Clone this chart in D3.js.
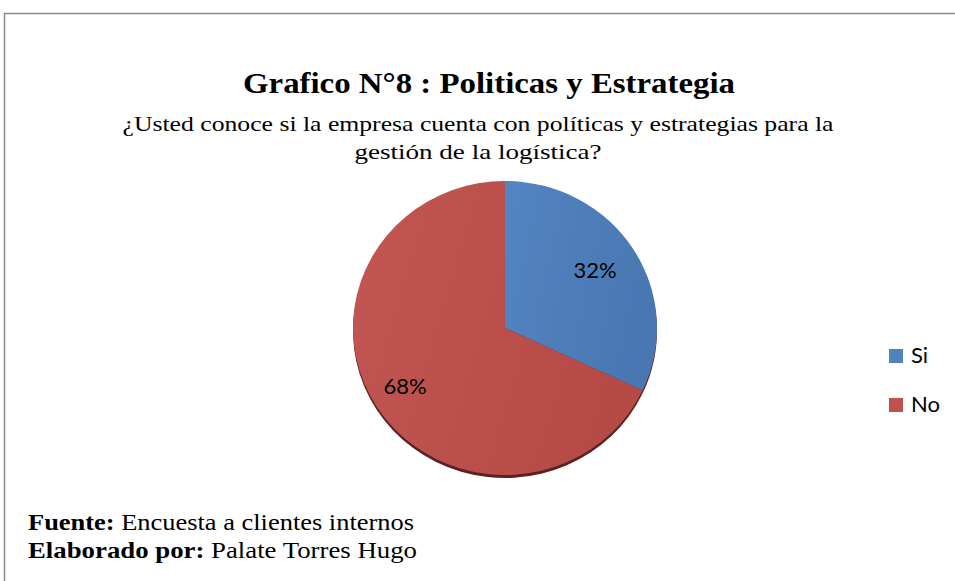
<!DOCTYPE html>
<html><head><meta charset="utf-8">
<script src="https://cdn.jsdelivr.net/npm/d3@7/dist/d3.min.js"></script>
<style>body{margin:0;background:#fff}svg{display:block}</style>
</head><body><svg id="c" width="955" height="581"></svg>
<script>
const categories = ["Si", "No"];
const values = [32, 68];
const labels = ["32%", "68%"];
const colors = ["#4F81BD", "#C0504D"];
const titleText = "Grafico  N°8 :  Politicas y Estrategia";
const subtitleLines = ["¿Usted conoce si la empresa cuenta con políticas y estrategias para la", "gestión de la logística?"];

const svg = d3.select("#c");
const W = 955, H = 581;
const serif = "'Liberation Serif', 'Times New Roman', serif";
const sans = "Lato, 'Open Sans', sans-serif";
svg.append("rect").attr("width", W).attr("height", H).attr("fill", "#fff");
// border
svg.append("path").attr("d", `M4.5,${H} L4.5,13.5 L${W},13.5`).attr("fill", "none").attr("stroke", "#8c8c8c").attr("stroke-width", 1.5);

const defs = svg.append("defs");
const g1 = defs.append("linearGradient").attr("id", "gb").attr("x1", "0").attr("x2", "1").attr("y1", "0").attr("y2", "0.3");
g1.append("stop").attr("offset", "0").attr("stop-color", "#5385c2");
g1.append("stop").attr("offset", "1").attr("stop-color", "#4977b2");
const g2 = defs.append("linearGradient").attr("id", "gr").attr("x1", "0").attr("x2", "1").attr("y1", "0").attr("y2", "0.3");
g2.append("stop").attr("offset", "0").attr("stop-color", "#c25652");
g2.append("stop").attr("offset", "1").attr("stop-color", "#b54a47");
const fills = ["url(#gb)", "url(#gr)"];
const blur = defs.append("filter").attr("id", "bl").attr("x", "-10%").attr("y", "-10%").attr("width", "120%").attr("height", "120%");
blur.append("feGaussianBlur").attr("stdDeviation", 0.7);

// title
svg.append("text").attr("x", 489).attr("y", 93).attr("text-anchor", "middle")
  .attr("font-family", serif).attr("font-weight", "bold").attr("font-size", 30)
  .attr("textLength", 492).attr("lengthAdjust", "spacingAndGlyphs").attr("fill", "#000").text(titleText);
const subW = [711, 247];
subtitleLines.forEach((t, i) => {
  svg.append("text").attr("x", 478).attr("y", 131 + i * 28).attr("text-anchor", "middle")
    .attr("font-family", serif).attr("font-size", 22)
    .attr("textLength", subW[i]).attr("lengthAdjust", "spacingAndGlyphs").attr("fill", "#000").text(t);
});

// pie
const cx = 505, cy = 328, rx = 152, ry = 147;
const pie = d3.pie().sort(null).value(d => d)(values);
const arc = d3.arc().innerRadius(0).outerRadius(rx);
const pg = svg.append("g").attr("transform", `translate(${cx},${cy}) scale(1,${ry / rx})`);
// shadow
pg.append("g").attr("transform", `translate(0,${3 * rx / ry})`)
  .selectAll("path").data(pie).join("path").attr("d", arc).attr("fill", "#5a2220").attr("filter", "url(#bl)");
pg.selectAll("path.s").data(pie).join("path").attr("class", "s").attr("d", arc).attr("fill", (d, i) => fills[i]);

const lblPos = [[595, 270], [405, 386]];
svg.selectAll("text.lbl").data(labels).join("text").attr("class", "lbl")
  .attr("x", (d, i) => lblPos[i][0]).attr("y", (d, i) => lblPos[i][1] + 8).attr("text-anchor", "middle")
  .attr("font-family", sans).attr("font-size", 22).attr("fill", "#000").text(d => d);

// legend
const lg = svg.append("g");
categories.forEach((c, i) => {
  lg.append("rect").attr("x", 889).attr("y", 349 + i * 49).attr("width", 14).attr("height", 14).attr("fill", colors[i]);
  lg.append("text").attr("x", 911).attr("y", 363 + i * 49).attr("font-family", sans)
    .attr("font-size", 22).attr("fill", "#000").text(c);
});

// footer
const foot = [["Fuente:", " Encuesta a clientes internos"], ["Elaborado por:", " Palate Torres Hugo"]];
const footW = [386, 389];
foot.forEach((f, i) => {
  const t = svg.append("text").attr("x", 28).attr("y", 530 + i * 28)
    .attr("font-family", serif).attr("font-size", 23).attr("fill", "#000")
    .attr("textLength", footW[i]).attr("lengthAdjust", "spacingAndGlyphs");
  t.append("tspan").attr("font-weight", "bold").text(f[0]);
  t.append("tspan").text(f[1]);
});
</script></body></html>
